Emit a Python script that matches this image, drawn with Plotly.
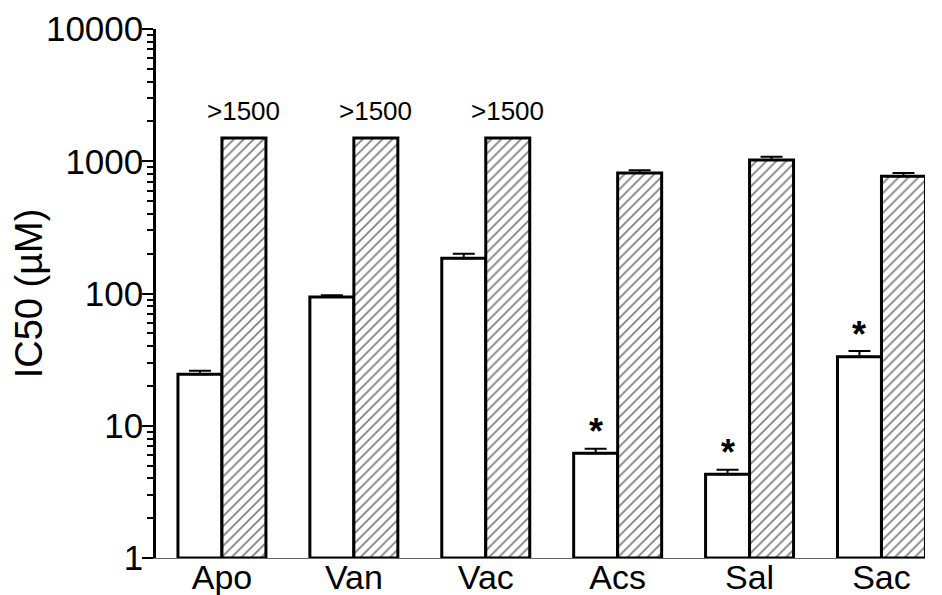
import math
import plotly.graph_objects as go

# ---- data ----
categories = ["Apo", "Van", "Vac", "Acs", "Sal", "Sac"]
white_vals = [24.5, 94, 185, 6.2, 4.3, 33.3]
white_err = [1.6, 3, 15, 0.5, 0.35, 3.4]
hatch_vals = [1500, 1500, 1500, 815, 1020, 770]
hatch_err = [0, 0, 0, 40, 60, 45]
hatch_labels = [">1500", ">1500", ">1500", "", "", ""]
signif = ["", "", "", "*", "*", "*"]
y_tickvals = [1, 10, 100, 1000, 10000]
y_ticktext = ["1", "10", "100", "1000", "10000"]

FONT = "Liberation Sans, Arial, sans-serif"
BASE = 1

fig = go.Figure()
fig.add_trace(go.Bar(
    x=categories, y=[v - BASE for v in white_vals], base=BASE,
    marker=dict(color="white", line=dict(color="black", width=3)),
    error_y=dict(type="data", array=white_err, arrayminus=[0] * len(white_err),
                 symmetric=False, color="black", thickness=2, width=11),
    showlegend=False,
))
fig.add_trace(go.Bar(
    x=categories, y=[v - BASE for v in hatch_vals], base=BASE,
    marker=dict(color="white", line=dict(color="black", width=3),
                pattern=dict(shape="/", size=7, solidity=0.25, fgcolor="black", bgcolor="white")),
    error_y=dict(type="data", array=hatch_err, arrayminus=[0] * len(hatch_err),
                 symmetric=False, color="black", thickness=2, width=11),
    showlegend=False,
))

annotations = []
for c, v, e, s in zip(categories, white_vals, white_err, signif):
    if s:
        annotations.append(dict(x=c, y=math.log10(v + e), xref="x", yref="y", text="<b>*</b>",
                                showarrow=False, xshift=-22, yshift=17, yanchor="middle",
                                font=dict(family=FONT, size=36, color="black")))
for c, v, lab in zip(categories, hatch_vals, hatch_labels):
    if lab:
        annotations.append(dict(x=c, y=math.log10(v), xref="x", yref="y", text=lab,
                                showarrow=False, xshift=22, yshift=27, yanchor="middle",
                                font=dict(family=FONT, size=26, color="black")))

minor_vals = [d * 10 ** k for k in range(0, 4) for d in range(2, 10)]

fig.update_layout(
    width=934, height=587,
    margin=dict(l=148, r=17, t=21, b=37),
    paper_bgcolor="white", plot_bgcolor="white",
    barmode="group", bargap=0.333, bargroupgap=0,
    font=dict(family=FONT, size=34, color="black"),
    annotations=annotations,
    xaxis=dict(
        type="category", range=[-0.5, 5.33], automargin=False,
        showline=True, linecolor="#666666", linewidth=1,
        ticks="", showgrid=False, zeroline=False, ticklabelstandoff=-11,
        tickfont=dict(family=FONT, size=34, color="black"),
        layer="below traces",
    ),
    yaxis=dict(
        type="log", range=[0, 4], automargin=False,
        showline=True, linecolor="black", linewidth=2.5,
        ticks="outside", ticklen=11, tickwidth=2, tickcolor="black",
        tickvals=y_tickvals, ticktext=y_ticktext, ticklabelstandoff=-8,
        tickfont=dict(family=FONT, size=35, color="black"),
        minor=dict(tickvals=minor_vals, ticks="outside", ticklen=6, tickwidth=2,
                   tickcolor="black", showgrid=False),
        showgrid=False, zeroline=False,
        title=dict(text="IC50 (µM)", font=dict(family=FONT, size=38, color="black"), standoff=0),
    ),
)

fig.write_html("out.html")
